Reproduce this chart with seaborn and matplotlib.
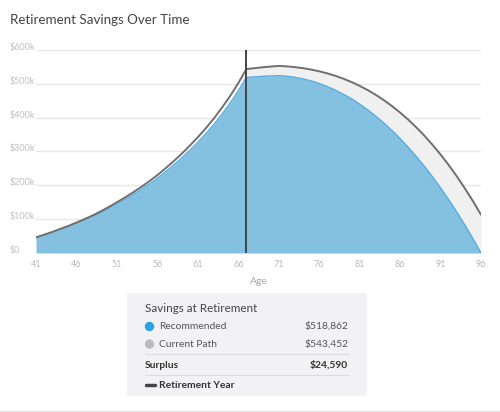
import seaborn as sns
import matplotlib.pyplot as plt
import pandas as pd
from matplotlib.lines import Line2D
from matplotlib.patches import Circle

# 데이터 (단위: $k)
ages = list(range(41, 97))
current_path = [46, 54, 62, 71, 80, 90, 100, 111, 123, 136, 150, 164, 179, 195, 212,
                230, 250, 271, 293, 317, 342, 369, 398, 430, 464, 502, 543.452,
                546.2, 548.8, 551, 553, 551.5, 549.3, 546.2, 542.1, 537.0, 530.9,
                523.6, 515.1, 505.2, 494.0, 481.4, 467.3, 451.5, 434.2, 415.1, 394.2,
                371.4, 346.7, 319.9, 291.1, 260.1, 226.9, 191.3, 153.4, 113.1]
recommended = [45.5, 53.4, 61.1, 69.6, 78.2, 87.8, 97.3, 107.7, 119.1, 131.5, 144.8,
               158.2, 172.4, 187.6, 203.8, 220.8, 239.9, 259.8, 280.7, 303.5, 327.2,
               352.9, 380.4, 410.9, 443.2, 479.4, 518.862,
               520.5, 522, 523.2, 524, 522.3, 519.2, 514.6, 508.5, 501.0, 491.9,
               481.3, 469.1, 455.4, 440.0, 423.0, 404.3, 383.9, 361.9, 338.1, 312.5,
               285.2, 256.1, 225.2, 192.4, 157.7, 121.2, 82.7, 42.3, 0]
retirement_age = 67
x_ticks = list(range(41, 97, 5))
y_ticks = [0, 100, 200, 300, 400, 500, 600]
y_tick_labels = ['$0', '$100k', '$200k', '$300k', '$400k', '$500k', '$600k']
recommended_at_ret = 518862
current_at_ret = 543452

df = pd.DataFrame({'age': ages, 'current': current_path, 'recommended': recommended})

sns.set_style('white')
plt.rcParams['font.family'] = ['Lato', 'DejaVu Sans']

fig = plt.figure(figsize=(5, 4.12), dpi=100)
ax = fig.add_axes([0.072, 0.386, 0.89, 0.4927])

# 은퇴 후 회색 영역
after = df[df['age'] >= retirement_age]
ax.fill_between(after['age'], 0, after['current'], color='#f0f0f0', lw=0)
ax.fill_between(df['age'], 0, df['recommended'], color='#84c1e0', lw=0)
sns.lineplot(data=df, x='age', y='recommended', color='#55ade0', lw=1.0, ax=ax)
sns.lineplot(data=df, x='age', y='current', color='#6f6f6f', lw=1.4, ax=ax)
ax.axvline(retirement_age, color='#444444', lw=1.4)

ax.set_xlim(41, 96)
ax.set_ylim(0, 600)
ax.set_yticks(y_ticks)
ax.set_yticklabels(y_tick_labels)
ax.set_xticks(x_ticks)
ax.grid(axis='y', color='#e8e8e8', lw=1)
ax.set_axisbelow(True)
for s in ax.spines.values():
    s.set_visible(False)
ax.tick_params(axis='y', length=0, pad=19, labelsize=6.5, labelcolor='#c0c0c0')
ax.tick_params(axis='x', length=0, pad=5, labelsize=6.5, labelcolor='#b8b8b8')
for lab in ax.get_yticklabels():
    lab.set_horizontalalignment('left')
    lab.set_verticalalignment('baseline')
ax.set_xlabel('Age', color='#aaaaaa', fontsize=7.5, labelpad=6)
ax.set_ylabel('')

fig.text(0.02, 0.951, 'Retirement Savings Over Time', fontsize=9.6, color='#444444',
         va='center', ha='left')

# 범례 박스
lg = fig.add_axes([0.254, 0.0388, 0.48, 0.25])
lg.set_facecolor('#f2f2f4')
lg.set_xlim(0, 240)
lg.set_ylim(103, 0)
lg.set_xticks([])
lg.set_yticks([])
for s in lg.spines.values():
    s.set_visible(False)

fs = 7.4
lg.text(18, 15.5, 'Savings at Retirement', fontsize=8.4, color='#444444', va='center')
lg.add_patch(Circle((22.5, 33.5), 4, color='#29a3e1'))
lg.text(32, 33.5, 'Recommended', fontsize=fs, color='#555555', va='center')
lg.text(221, 33.5, '${:,}'.format(recommended_at_ret), fontsize=fs, color='#555555',
        va='center', ha='right')
lg.add_patch(Circle((22.5, 51), 4, color='#bdbdbd'))
lg.text(32, 51, 'Current Path', fontsize=fs, color='#555555', va='center')
lg.text(221, 51, '${:,}'.format(current_at_ret), fontsize=fs, color='#555555',
        va='center', ha='right')
lg.plot([18, 222], [60.5, 60.5], color='#dcdde2', lw=0.8)
lg.text(18, 72, 'Surplus', fontsize=fs, color='#333333', fontweight='bold', va='center')
lg.text(221, 72, '${:,}'.format(current_at_ret - recommended_at_ret), fontsize=fs,
        color='#333333', fontweight='bold', va='center', ha='right')
lg.plot([18, 222], [81.5, 81.5], color='#dcdde2', lw=0.8)
lg.plot([19, 28], [92, 92], color='#444444', lw=2.5)
lg.text(32, 92, 'Retirement Year', fontsize=fs, color='#333333', fontweight='bold',
        va='center')

fig.add_artist(Line2D([0, 1], [0.003, 0.003], color='#e4e4e4', lw=1))

plt.savefig('out.png', dpi=100)
